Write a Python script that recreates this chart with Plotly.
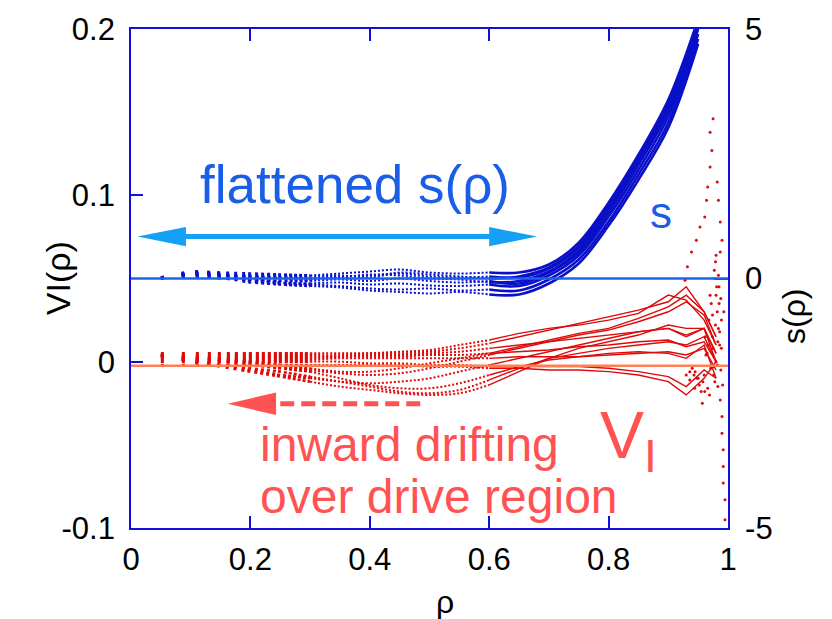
import plotly.graph_objects as go

# ---------------- data ----------------
rho_s = [0.05, 0.1, 0.15, 0.2, 0.25, 0.3, 0.35, 0.4, 0.45, 0.5, 0.55, 0.6, 0.65,
         0.7, 0.75, 0.8, 0.85, 0.9, 0.95]
s_curves = [
    [0.02, 0.15, 0.12, 0.10, 0.08, 0.06, 0.10, 0.14, 0.18, 0.12, 0.10, 0.12, 0.12, 0.28, 0.72, 1.52, 2.48, 3.58, 5.2],
    [0.00, 0.08, 0.05, 0.03, 0.02, 0.00, 0.04, 0.06, 0.10, 0.04, 0.02, 0.04, 0.02, 0.20, 0.62, 1.42, 2.38, 3.48, 5.1],
    [0.00, 0.05, 0.00, -0.02, -0.05, -0.05, -0.02, -0.05, 0.00, -0.05, -0.08, -0.05, -0.10, 0.12, 0.52, 1.32, 2.28, 3.34, 5.0],
    [0.00, 0.10, 0.08, -0.05, -0.10, -0.10, -0.08, -0.12, -0.10, -0.14, -0.15, -0.12, -0.15, 0.06, 0.46, 1.24, 2.18, 3.24, 4.9],
    [0.00, 0.12, 0.10, 0.00, -0.08, -0.12, -0.15, -0.20, -0.22, -0.20, -0.24, -0.22, -0.24, -0.02, 0.38, 1.14, 2.08, 3.12, 4.8],
    [0.00, 0.06, 0.02, -0.08, -0.12, -0.15, -0.18, -0.24, -0.27, -0.30, -0.27, -0.32, -0.32, -0.10, 0.30, 1.06, 1.98, 3.02, 4.7],
    [0.02, 0.10, 0.06, 0.04, 0.00, -0.02, 0.02, 0.08, 0.06, 0.00, -0.02, -0.08, -0.05, 0.14, 0.56, 1.36, 2.32, 3.42, 5.05],
    [0.01, 0.12, 0.08, 0.06, 0.04, 0.02, 0.06, 0.02, 0.12, 0.08, 0.04, 0.00, 0.04, 0.22, 0.66, 1.46, 2.42, 3.52, 5.15],
]

rho_v = [0.05, 0.1, 0.15, 0.2, 0.25, 0.3, 0.35, 0.4, 0.45, 0.5, 0.55, 0.6, 0.65,
         0.7, 0.75, 0.8, 0.85, 0.9, 0.93, 0.96, 0.98]
v_curves = [
    [0.005, 0.005, 0.005, 0.005, 0.005, 0.005, 0.005, 0.005, 0.005, 0.006, 0.008, 0.011, 0.015, 0.019, 0.023, 0.027, 0.031, 0.036, 0.045, 0.030, 0.015],
    [0.004, 0.004, 0.004, 0.004, 0.004, 0.004, 0.004, 0.005, 0.006, 0.007, 0.010, 0.013, 0.017, 0.020, 0.022, 0.025, 0.029, 0.040, 0.037, 0.025, 0.010],
    [0.003, 0.003, 0.003, 0.003, 0.003, 0.003, 0.003, 0.004, 0.004, 0.005, 0.006, 0.008, 0.010, 0.012, 0.014, 0.016, 0.018, 0.020, 0.016, 0.020, 0.005],
    [0.002, 0.002, 0.002, 0.002, 0.002, 0.002, 0.003, 0.003, 0.003, 0.004, 0.004, 0.005, 0.006, 0.007, 0.009, 0.010, 0.012, 0.013, 0.009, 0.012, 0.000],
    [0.001, 0.001, 0.001, 0.001, 0.001, 0.001, 0.002, 0.002, 0.002, 0.002, 0.002, 0.002, 0.003, 0.003, 0.003, 0.004, 0.005, 0.006, 0.004, 0.008, -0.005],
    [0.000, 0.000, 0.000, 0.000, 0.000, 0.000, 0.000, -0.001, -0.001, -0.002, -0.002, -0.003, -0.003, -0.003, -0.003, -0.004, -0.006, -0.009, -0.015, -0.005, -0.010],
    [-0.002, -0.002, -0.002, -0.002, -0.002, -0.002, -0.002, -0.002, -0.002, -0.003, -0.003, -0.004, -0.004, -0.005, -0.005, -0.006, -0.008, -0.012, -0.020, -0.010, 0.000],
    [0.004, 0.002, -0.002, -0.005, -0.008, -0.010, -0.012, -0.013, -0.012, -0.010, -0.006, -0.002, 0.002, 0.006, 0.010, 0.014, 0.018, 0.020, 0.015, 0.020, 0.005],
    [0.004, 0.000, -0.003, -0.006, -0.009, -0.012, -0.015, -0.017, -0.019, -0.020, -0.019, -0.014, -0.006, 0.002, 0.008, 0.012, 0.016, 0.022, 0.020, 0.020, 0.000],
    [0.003, 0.001, -0.002, -0.004, -0.006, -0.009, -0.012, -0.015, -0.018, -0.019, -0.017, -0.011, -0.004, 0.002, 0.005, 0.008, 0.010, 0.012, 0.010, 0.015, 0.000],
    [0.004, 0.002, 0.000, -0.002, -0.004, -0.006, -0.010, -0.014, -0.016, -0.016, -0.013, -0.008, -0.003, 0.001, 0.003, 0.005, 0.006, 0.005, 0.002, 0.010, -0.010],
    [0.004, 0.003, 0.001, -0.001, -0.003, -0.005, -0.007, -0.008, -0.007, -0.004, 0.000, 0.004, 0.008, 0.012, 0.016, 0.019, 0.024, 0.030, 0.036, 0.028, 0.010],
    [0.004, 0.003, 0.002, 0.000, -0.002, -0.004, -0.006, -0.006, -0.004, -0.001, 0.002, 0.005, 0.009, 0.013, 0.017, 0.020, 0.026, 0.033, 0.040, 0.030, 0.015],
]

edge_rho = [0.975, 0.97, 0.973, 0.97, 0.966, 0.964, 0.961, 0.953, 0.947, 0.939, 0.932, 0.928,
            0.982, 0.984, 0.987, 0.990, 0.987,
            0.987, 0.990, 0.990, 0.992, 0.992, 0.992, 0.995, 0.995,
            0.978, 0.980, 0.982, 0.984, 0.986, 0.980, 0.976, 0.972, 0.968, 0.962, 0.958, 0.955,
            0.950, 0.945, 0.940, 0.985, 0.988, 0.983, 0.979, 0.974, 0.969, 0.965,
            0.977, 0.981, 0.985, 0.989, 0.979, 0.983, 0.975, 0.971, 0.967, 0.963, 0.960,
            0.952, 0.948, 0.943, 0.936, 0.978, 0.982, 0.986, 0.974, 0.970, 0.966, 0.984,
            0.980, 0.976, 0.989, 0.991, 0.993, 0.988, 0.957, 0.961, 0.944, 0.936, 0.930]
edge_v = [0.146, 0.138, 0.127, 0.117, 0.105, 0.097, 0.087, 0.081, 0.073, 0.066, 0.057, 0.049,
          0.108, 0.097, 0.084, 0.073, 0.066,
          -0.023, -0.033, -0.043, -0.053, -0.063, -0.073, -0.083, -0.095,
          0.050, 0.040, 0.030, 0.020, 0.010, 0.000, -0.008, 0.035, 0.025, 0.015, -0.012, -0.018,
          -0.010, -0.006, -0.004, 0.045, -0.005, -0.015, 0.060, 0.015, -0.020, 0.005,
          0.055, 0.045, 0.035, 0.025, 0.022, 0.012, 0.008, -0.004, 0.010, 0.004, -0.008,
          -0.014, -0.010, -0.008, -0.006, -0.012, -0.002, 0.018, 0.028, 0.040, -0.016, 0.052,
          0.064, -0.003, 0.008, -0.014, 0.030, 0.038, -0.025, -0.018, -0.016, -0.011, -0.008]

x_ticks = [0, 0.2, 0.4, 0.6, 0.8, 1]
x_tick_text = ["0", "0.2", "0.4", "0.6", "0.8", "1"]
v_ticks = [-0.1, 0, 0.1, 0.2]
v_tick_text = ["-0.1", "0", "0.1", "0.2"]
s_ticks = [-5, 0, 5]
s_tick_text = ["-5", "0", "5"]

# ---------------- styles ----------------
FRAME = "#1010d8"
BLUE_DOTS = "#0a10c8"
RED_DOTS = "#dd0a0a"
ZERO_BLUE = "#1a62ec"
ZERO_ORANGE = "#ff7f55"
ARROW_BLUE = "#14a0f5"
TEXT_BLUE = "#1a5ee8"
TEXT_RED = "#ff5252"
FONT = "Liberation Sans, Arial, sans-serif"
# dash pattern imitating the radial grid (sparse near the axis, denser outward)
GRID_DASH = ("3px,18px,3px,11px,3px,9px,3px,7px,3px,6px,3px,5px,3px,5px,3px,3px,"
             "3px,4px,3px,3px,3px,3px,3px,3px,3px,2px,3px,3px,3px,2px,3px,2px,"
             "3px,2px,3px,2px,3px,2px,3px,2px")
I1, I2 = 5, 11   # segment boundaries: 0.05-0.3 gridded, 0.3-0.6 dotted, beyond solid


def add_segments(xs, ys, color, yaxis, w_solid, solid_shape):
    fig.add_trace(go.Scatter(x=xs[:I1 + 1], y=ys[:I1 + 1], mode="lines", yaxis=yaxis,
                             line=dict(color=color, width=2.6, dash=GRID_DASH),
                             showlegend=False, hoverinfo="skip"))
    fig.add_trace(go.Scatter(x=xs[I1:I2 + 1], y=ys[I1:I2 + 1], mode="lines", yaxis=yaxis,
                             line=dict(color=color, width=2.0, dash="2px,2px", shape="spline"),
                             showlegend=False, hoverinfo="skip"))
    fig.add_trace(go.Scatter(x=xs[I2:], y=ys[I2:], mode="lines", yaxis=yaxis,
                             line=dict(color=color, width=w_solid, shape=solid_shape),
                             showlegend=False, hoverinfo="skip"))


fig = go.Figure()

for sc in s_curves:
    add_segments(rho_s, sc, BLUE_DOTS, "y2", 2.6, "spline")

for vc in v_curves:
    add_segments(rho_v, vc, RED_DOTS, "y", 1.4, "linear")

fig.add_trace(go.Scatter(x=edge_rho, y=edge_v, mode="markers",
                         marker=dict(color=RED_DOTS, size=3),
                         showlegend=False, hoverinfo="skip"))

# zero lines
fig.add_shape(type="line", xref="x", yref="y2", x0=0, x1=1.01, y0=0, y1=0,
              line=dict(color=ZERO_BLUE, width=2.5))
fig.add_shape(type="line", xref="x", yref="y", x0=-0.005, x1=1.01, y0=-0.0025, y1=-0.0025,
              line=dict(color=ZERO_ORANGE, width=2.5))

# blue double arrow (flattened region)
ya = 0.0752
fig.add_shape(type="line", xref="x", yref="y", x0=0.08, x1=0.61, y0=ya, y1=ya,
              line=dict(color=ARROW_BLUE, width=5))
fig.add_shape(type="path", xref="x", yref="y",
              path=f"M 0.011 {ya} L 0.092 {ya+0.0058} L 0.092 {ya-0.0058} Z",
              fillcolor=ARROW_BLUE, line=dict(width=0))
fig.add_shape(type="path", xref="x", yref="y",
              path=f"M 0.68 {ya} L 0.60 {ya+0.0058} L 0.60 {ya-0.0058} Z",
              fillcolor=ARROW_BLUE, line=dict(width=0))

# red dashed arrow (inward drift)
yr = -0.0253
fig.add_shape(type="path", xref="x", yref="y",
              path=f"M 0.162 {yr} L 0.243 {yr+0.0068} L 0.243 {yr-0.0068} Z",
              fillcolor=TEXT_RED, line=dict(width=0))
fig.add_shape(type="line", xref="x", yref="y", x0=0.25, x1=0.493, y0=yr, y1=yr,
              line=dict(color=TEXT_RED, width=5, dash="14px,7px"))

# text annotations
fig.add_annotation(x=0.375, y=0.1067, xref="x", yref="y", text="flattened s(ρ)",
                   showarrow=False, font=dict(family=FONT, size=53, color=TEXT_BLUE))
fig.add_annotation(x=0.888, y=0.0895, xref="x", yref="y", text="s",
                   showarrow=False, font=dict(family=FONT, size=44, color=TEXT_BLUE))
fig.add_annotation(x=0.2127, y=-0.0495, xref="x", yref="y", text="inward drifting",
                   showarrow=False, xanchor="left", font=dict(family=FONT, size=48, color=TEXT_RED))
fig.add_annotation(x=0.2127, y=-0.081, xref="x", yref="y", text="over drive region",
                   showarrow=False, xanchor="left", font=dict(family=FONT, size=48, color=TEXT_RED))
fig.add_annotation(x=0.834, y=-0.047, xref="x", yref="y", text="V<sub>I</sub>",
                   showarrow=False, font=dict(family=FONT, size=66, color=TEXT_RED))

# axis titles as annotations (placed where the reference has them)
fig.add_annotation(x=-0.158, y=0.5, xref="paper", yref="paper", text="VI(ρ)", textangle=-90,
                   showarrow=False, font=dict(family=FONT, size=34, color="black"))
fig.add_annotation(x=1.145, y=0.424, xref="paper", yref="paper", text="s(ρ)", textangle=-90,
                   showarrow=False, font=dict(family=FONT, size=32, color="black"))
fig.add_annotation(x=0.526, y=-0.189, xref="paper", yref="paper", text="ρ",
                   showarrow=False, font=dict(family=FONT, size=32, color="black"))

axis_common = dict(showgrid=False, zeroline=False, ticks="inside", ticklen=12,
                   tickcolor=FRAME, tickwidth=1.5, linecolor=FRAME, linewidth=1.8,
                   automargin=False,
                   tickfont=dict(family=FONT, size=31, color="black"))

# the page body adds an 8 px offset, so margins are reduced by 8 px on the left/top
fig.update_layout(
    width=832, height=619,
    margin=dict(l=123, r=112, t=21, b=99),
    paper_bgcolor="white", plot_bgcolor="white",
    xaxis=dict(range=[0, 1], tickvals=x_ticks, ticktext=x_tick_text,
               showline=True, mirror="ticks", ticklabelstandoff=3, **axis_common),
    yaxis=dict(range=[-0.1, 0.2], tickvals=v_ticks, ticktext=v_tick_text,
               showline=True, mirror=True, ticklabelstandoff=8, **axis_common),
    yaxis2=dict(range=[-5, 5], tickvals=s_ticks, ticktext=s_tick_text,
                overlaying="y", side="right", showline=True, ticklabelstandoff=9,
                **axis_common),
)

fig.write_html("out.html")
